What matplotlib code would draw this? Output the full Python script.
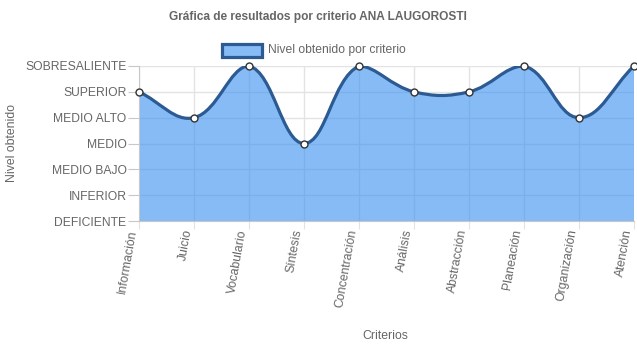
import numpy as np
import matplotlib
matplotlib.use("Agg")
import matplotlib.pyplot as plt
from matplotlib.path import Path
from matplotlib.patches import PathPatch, Rectangle

plt.rcParams['font.family'] = ['Liberation Sans', 'DejaVu Sans']

title = "Gráfica de resultados por criterio ANA LAUGOROSTI"
series_name = "Nivel obtenido por criterio"
categories = ["Información", "Juicio", "Vocabulario", "Síntesis", "Concentración",
              "Análisis", "Abstracción", "Planeación", "Organización", "Atención"]
levels = ["DEFICIENTE", "INFERIOR", "MEDIO BAJO", "MEDIO", "MEDIO ALTO",
          "SUPERIOR", "SOBRESALIENTE"]
values = [5, 4, 6, 3, 6, 5, 5, 6, 4, 6]

W, H = 637, 348
fig = plt.figure(figsize=(W / 100, H / 100), dpi=100)
L, R, T, B = 139, 634, 66, 221
ax = fig.add_axes([L / W, 1 - B / H, (R - L) / W, (B - T) / H])

n = len(categories)
xs = np.arange(n)
ys = np.array(values, dtype=float)
ax.set_xlim(0, n - 1)
ax.set_ylim(0, len(levels) - 1)

# pixel scale for Chart.js-like bezier (tension 0.4)
sx = (R - L) / (n - 1)
sy = (B - T) / (len(levels) - 1)
px = xs * sx
py = ys * sy
t = 0.4
cps = []
for i in range(n):
    pp = (px[i - 1], py[i - 1]) if i > 0 else (px[i], py[i])
    cp = (px[i], py[i])
    np_ = (px[i + 1], py[i + 1]) if i < n - 1 else (px[i], py[i])
    d01 = np.hypot(cp[0] - pp[0], cp[1] - pp[1])
    d12 = np.hypot(np_[0] - cp[0], np_[1] - cp[1])
    tot = d01 + d12
    s01 = d01 / tot if tot else 0
    s12 = d12 / tot if tot else 0
    fa, fb = t * s01, t * s12
    prev_c = (cp[0] - fa * (np_[0] - pp[0]), cp[1] - fa * (np_[1] - pp[1]))
    next_c = (cp[0] + fb * (np_[0] - pp[0]), cp[1] + fb * (np_[1] - pp[1]))
    ymax = (len(levels) - 1) * sy
    prev_c = (np.clip(prev_c[0], 0, px[-1]), np.clip(prev_c[1], 0, ymax))
    next_c = (np.clip(next_c[0], 0, px[-1]), np.clip(next_c[1], 0, ymax))
    cps.append((prev_c, next_c))

verts = [(xs[0], ys[0])]
codes = [Path.MOVETO]
for i in range(n - 1):
    c1 = cps[i][1]
    c2 = cps[i + 1][0]
    verts += [(c1[0] / sx, c1[1] / sy), (c2[0] / sx, c2[1] / sy), (xs[i + 1], ys[i + 1])]
    codes += [Path.CURVE4] * 3
line_path = Path(verts, codes)
fill_verts = verts + [(xs[-1], 0), (xs[0], 0), (xs[0], ys[0])]
fill_codes = codes + [Path.LINETO, Path.LINETO, Path.CLOSEPOLY]
fill_path = Path(fill_verts, fill_codes)

fill_color = (0.22, 0.56, 0.94, 0.6)
line_color = "#2c5a92"

ax.add_patch(PathPatch(fill_path, facecolor=fill_color, edgecolor='none', zorder=2))
ax.add_patch(PathPatch(line_path, facecolor='none', edgecolor=line_color, lw=2.3, zorder=3,
                       capstyle='round', joinstyle='round'))
ax.plot(xs, ys, 'o', ms=5, mfc='white', mec='#333333', mew=1.0, zorder=4, clip_on=False)

grid_c = "#e3e3e3"
ax.set_xticks(xs)
ax.set_yticks(range(len(levels)))
ax.grid(True, color=grid_c, lw=1, zorder=0)
ax.set_axisbelow(True)
for s in ['top', 'right']:
    ax.spines[s].set_visible(False)
ax.spines['bottom'].set_color("#c8c8c8")
ax.spines['left'].set_color("#c8c8c8")
ax.tick_params(axis='y', length=8, color="#c8c8c8", pad=1, labelsize=8.7, labelcolor="#666666")
ax.tick_params(axis='x', length=6, color=grid_c, pad=1, labelsize=8.8, labelcolor="#666666")
ax.set_yticklabels(levels)
ax.set_xticklabels(categories, rotation=80, ha='right', va='bottom', rotation_mode='anchor')

fig.text(12 / W, 1 - 143 / H, "Nivel obtenido", rotation=90, ha='center', va='center',
         fontsize=8.8, color="#666666")
fig.text(385 / W, 1 - 336 / H, "Criterios", ha='center', va='center', fontsize=8.8, color="#666666")
fig.text(318 / W, 1 - 17 / H, title, ha='center', va='center', fontsize=8.6, fontweight='bold',
         color="#666666")

# legend
fig.patches.append(Rectangle((222 / W, 1 - 57 / H), 40 / W, 13 / H, transform=fig.transFigure,
                             facecolor=fill_color, edgecolor=line_color, lw=2.3))
fig.text(268 / W, 1 - 50 / H, series_name, ha='left', va='center', fontsize=8.7, color="#666666")

fig.savefig("out.png", dpi=100)
